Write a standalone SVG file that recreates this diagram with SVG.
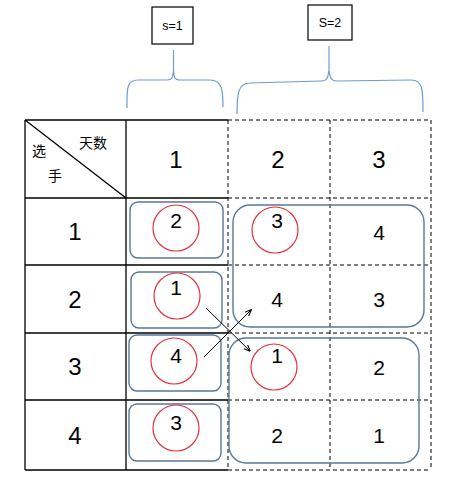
<svg xmlns="http://www.w3.org/2000/svg" width="453" height="483" viewBox="0 0 453 483">
<style>
.solid{stroke:#000;stroke-width:1.3;fill:none}
.dash{stroke:#000;stroke-width:1;fill:none;stroke-dasharray:4,3}
.brace{stroke:#6C9BD2;stroke-width:1.2;fill:none}
.box{stroke:#000;stroke-width:1.2;fill:#fff}
.rr{stroke:#5A7898;stroke-width:1.4;fill:none}
.cir{stroke:#E5323C;stroke-width:1.2;fill:none}
.big{font-family:"Liberation Sans","Noto Sans",sans-serif;font-size:24px;fill:#000;text-anchor:middle}
.mid{font-family:"Liberation Sans","Noto Sans",sans-serif;font-size:21px;fill:#000;text-anchor:middle}
.sm{font-family:"Liberation Sans","Noto Sans",sans-serif;font-size:12.5px;fill:#000;text-anchor:middle}
.cjk{font-family:"Liberation Sans","Noto Sans CJK SC",sans-serif;font-size:14px;fill:#000}
.arr{stroke:#000;stroke-width:1;fill:none;marker-end:url(#ah)}
</style>
<defs>
<marker id="ah" viewBox="0 0 10 10" refX="9" refY="5" markerWidth="7" markerHeight="7" orient="auto">
<path d="M0,1 L10,5 L0,9" fill="none" stroke="#000" stroke-width="1.5"/>
</marker>
</defs>
<rect width="453" height="483" fill="#fff"/>
<g id="labels">
<rect class="box" x="152" y="7" width="41" height="37"/>
<text class="sm" x="172.5" y="30">s=1</text>
<rect class="box" x="308" y="5" width="44" height="35"/>
<text class="sm" x="330" y="27">S=2</text>
<path class="brace" d="M127,108 C127,90 126,80 138,80 L167,80 C172,80 173,78 173.5,70 L173.5,50 M173.5,70 C174,78 175,80 180,80 L210,80 C222,80 223,90 223,107"/>
<path class="brace" d="M237,114 C237,94 238,83 250,83 L321,81 C327,81 328,78 329,70 L329,46 M329,70 C330,78 331,81 337,81 L411,80 C423,80 423,90 423,112"/>
</g>
<g id="table">
<path class="solid" d="M25,120 H228 M25,198 H228 M25,265 H228 M25,333 H228 M25,400 H228 M25,470 H228 M25,120 V470 M126,120 V470 M25,120 L126,198"/>
<path class="dash" d="M228,120 H431 M228,198 H431 M228,265 H431 M228,333 H431 M228,400 H431 M228,470 H431 M228,120 V470 M330,120 V470 M431,120 V470"/>
<text class="cjk" x="79" y="148">天数</text>
<text class="cjk" x="32" y="156">选</text>
<text class="cjk" x="48" y="181">手</text>
<text class="big" x="176" y="168">1</text>
<text class="big" x="278" y="168">2</text>
<text class="big" x="379" y="168">3</text>
<text class="big" x="75" y="240">1</text>
<text class="big" x="75" y="308">2</text>
<text class="big" x="75" y="375">3</text>
<text class="big" x="75" y="444">4</text>
</g>
<g id="groups">
<rect class="rr" x="130" y="202" width="93" height="56" rx="8"/>
<rect class="rr" x="131" y="272" width="91" height="56" rx="8"/>
<rect class="rr" x="129" y="335" width="92" height="56" rx="8"/>
<rect class="rr" x="129" y="404" width="92" height="57" rx="8"/>
<rect class="rr" x="233" y="205" width="191" height="122" rx="17"/>
<rect class="rr" x="229" y="338" width="190" height="125" rx="17"/>
</g>
<g id="circles">
<circle class="cir" cx="176" cy="228" r="23"/>
<circle class="cir" cx="177" cy="296" r="23"/>
<circle class="cir" cx="174" cy="361" r="23"/>
<circle class="cir" cx="176" cy="428" r="23"/>
<circle class="cir" cx="275" cy="230" r="23"/>
<circle class="cir" cx="274" cy="367" r="23"/>
</g>
<g id="values">
<text class="mid" x="176" y="228">2</text>
<text class="mid" x="277" y="228">3</text>
<text class="mid" x="379" y="240">4</text>
<text class="mid" x="176" y="295">1</text>
<text class="mid" x="277" y="307">4</text>
<text class="mid" x="379" y="307">3</text>
<text class="mid" x="176" y="363">4</text>
<text class="mid" x="277" y="363">1</text>
<text class="mid" x="379" y="375">2</text>
<text class="mid" x="176" y="430">3</text>
<text class="mid" x="277" y="443">2</text>
<text class="mid" x="379" y="443">1</text>
</g>
<g id="connectors">
<line class="arr" x1="206" y1="308" x2="250" y2="351"/>
<line class="arr" x1="204" y1="357" x2="251" y2="310"/>
</g>
</svg>
